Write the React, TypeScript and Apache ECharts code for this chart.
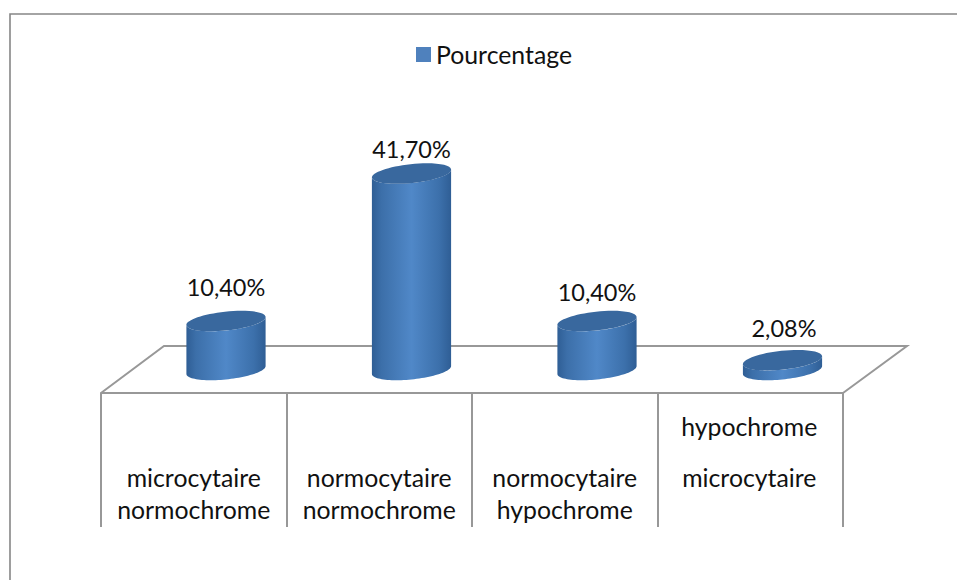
import React, { useEffect, useRef } from "react";
import * as echarts from "echarts";

const seriesName = "Pourcentage";
const categories = [
  "microcytaire\nnormochrome",
  "normocytaire\nnormochrome",
  "normocytaire\nhypochrome",
  "hypochrome\nmicrocytaire",
];
const values = [10.4, 41.7, 10.4, 2.08];
const valueLabels = ["10,40%", "41,70%", "10,40%", "2,08%"];
const labelGaps = [12, 2, 7, 10];

const FONT = "Lato, 'Open Sans', sans-serif";
const GREY = "#989898";
const RX = 39.8;
const RY = 9.4;
const TILT = (-6 * Math.PI) / 180;

function ellipsePoint(cx: number, cy: number, t: number): [number, number] {
  return [
    cx + RX * Math.cos(t) * Math.cos(TILT) - RY * Math.sin(t) * Math.sin(TILT),
    cy + RX * Math.cos(t) * Math.sin(TILT) + RY * Math.sin(t) * Math.cos(TILT),
  ];
}

function renderCylinder(params: any, api: any) {
  const i = api.value(0);
  const [cx, topY] = api.coord([i, api.value(1)]);
  const [, baseY] = api.coord([i, 0]);
  const t0 = Math.atan2(-RY * Math.sin(TILT), RX * Math.cos(TILT));
  const lowerBase: number[][] = [];
  const lowerTop: number[][] = [];
  const steps = 48;
  for (let k = 0; k <= steps; k++) {
    const t = t0 + (Math.PI * k) / steps;
    lowerBase.push(ellipsePoint(cx, baseY, t));
    lowerTop.unshift(ellipsePoint(cx, topY, t));
  }
  const topExtent = Math.sqrt(RX * RX * Math.sin(TILT) ** 2 + RY * RY * Math.cos(TILT) ** 2);
  return {
    type: "group",
    children: [
      {
        type: "polygon",
        shape: { points: lowerBase.concat(lowerTop) },
        style: {
          fill: {
            type: "linear",
            x: 0,
            y: 0,
            x2: 1,
            y2: 0,
            colorStops: [
              { offset: 0, color: "#2f5e95" },
              { offset: 0.12, color: "#3c6fa9" },
              { offset: 0.5, color: "#5088c8" },
              { offset: 0.85, color: "#3c70ab" },
              { offset: 1, color: "#2f5e95" },
            ],
          },
        },
      },
      {
        type: "ellipse",
        x: cx,
        y: topY,
        rotation: -TILT,
        shape: { cx: 0, cy: 0, rx: RX, ry: RY },
        style: { fill: "#39689e" },
      },
      {
        type: "text",
        style: {
          text: valueLabels[i],
          x: cx + (i === 3 ? 1.5 : 0),
          y: topY - topExtent - labelGaps[i],
          align: "center",
          verticalAlign: "bottom",
          fontFamily: FONT,
          fontSize: 23.5,
          fill: "#111111",
        },
      },
    ],
  };
}

export default function App() {
  const ref = useRef<HTMLDivElement>(null);
  useEffect(() => {
    document.body.style.margin = "0";
    const chart = echarts.init(ref.current!, undefined, { renderer: "svg" });
    chart.setOption({
      animation: false,
      backgroundColor: "#ffffff",
      legend: {
        left: 411,
        top: 37,
        itemWidth: 15,
        itemHeight: 15,
        data: [{ name: seriesName, icon: "rect", itemStyle: { color: "#4f81bd" } }],
        textStyle: { fontFamily: FONT, fontSize: 24.8, color: "#111111" },
      },
      grid: [
        { left: 133.25, width: 742, top: 134.5, height: 235.5 },
        { left: 101, width: 742, top: 393, height: 134 },
      ],
      xAxis: [
        { type: "category", gridIndex: 0, data: categories, show: false },
        {
          type: "category",
          gridIndex: 1,
          position: "top",
          data: categories.map((value, i) => ({
            value,
            textStyle:
              i === 3
                ? { lineHeight: 51, padding: [8, 2, 0, 0] }
                : { lineHeight: 31.5, padding: [69, 0, 0, 0] },
          })),
          axisLine: { show: true, onZero: false, lineStyle: { color: GREY, width: 2 } },
          axisTick: { show: false },
          splitLine: { show: true, interval: 0, lineStyle: { color: GREY, width: 2 } },
          axisLabel: {
            inside: true,
            interval: 0,
            margin: 0,
            verticalAlign: "top",
            fontFamily: FONT,
            fontSize: 24.8,
            color: "#111111",
          },
        },
      ],
      yAxis: [
        { type: "value", gridIndex: 0, min: 0, max: 50, show: false },
        { type: "value", gridIndex: 1, min: 0, max: 1, show: false },
      ],
      graphic: [
        {
          type: "polyline",
          z: 0,
          silent: true,
          shape: { points: [[101, 393], [164, 346], [907, 346], [843, 393]] },
          style: { stroke: GREY, lineWidth: 2, fill: "none" },
        },
        {
          type: "polyline",
          z: 0,
          silent: true,
          shape: { points: [[10, 580], [10, 14], [957, 14]] },
          style: { stroke: "#868686", lineWidth: 1.6, fill: "none" },
        },
      ],
      series: [
        {
          name: seriesName,
          type: "custom",
          xAxisIndex: 0,
          yAxisIndex: 0,
          z: 5,
          itemStyle: { color: "#4f81bd" },
          encode: { x: 0, y: 1 },
          data: values.map((v, i) => [i, v]),
          renderItem: renderCylinder,
        },
      ],
    });
    return () => chart.dispose();
  }, []);
  return <div ref={ref} style={{ position: "fixed", left: 0, top: 0, width: 957, height: 580 }} />;
}
